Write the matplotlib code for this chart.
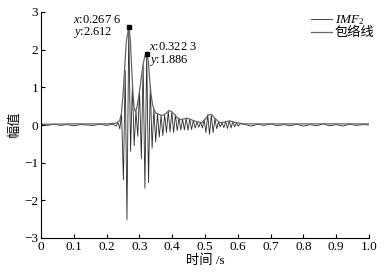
import numpy as np
import matplotlib
matplotlib.use("Agg")
import matplotlib.pyplot as plt

plt.rcParams['font.family'] = ['Liberation Serif', 'Noto Sans CJK SC']
plt.rcParams['mathtext.fontset'] = 'custom'
plt.rcParams['mathtext.rm'] = 'Liberation Serif'
plt.rcParams['mathtext.it'] = 'Liberation Serif:italic'

# baseline wiggle before / after the burst
t_quiet = [0.0, 0.02, 0.04, 0.06, 0.08, 0.10, 0.12, 0.14, 0.16, 0.18, 0.20, 0.22, 0.229,
           0.62, 0.64, 0.66, 0.68, 0.70, 0.72, 0.74, 0.76, 0.78, 0.80, 0.82, 0.84,
           0.86, 0.88, 0.90, 0.92, 0.94, 0.96, 0.98, 1.0]
v_quiet = [0.01, -0.01, 0.02, -0.01, 0.01, -0.02, 0.01, 0.00, -0.01, 0.02, -0.01, 0.02, -0.03,
           0.02, -0.03, 0.02, -0.01, 0.03, -0.02, 0.01, -0.02, 0.02, -0.03, 0.01, -0.02,
           0.03, -0.02, 0.01, -0.03, 0.02, -0.01, 0.01, 0.00]

# IMF2 extrema
t_pk = [0.2347, 0.2457, 0.2567, 0.2676, 0.2786, 0.2895, 0.3004, 0.3114, 0.3223, 0.3332,
        0.3442, 0.3551, 0.3661, 0.3770, 0.3880, 0.3989, 0.4098, 0.4208, 0.4317, 0.4427,
        0.4536, 0.4645, 0.4755, 0.4864, 0.4974, 0.5083, 0.5192, 0.5302, 0.5411, 0.5521,
        0.5630, 0.5739, 0.5849, 0.5958, 0.6068]
v_pk = [0.06, 0.30, 1.45, 2.612, 1.05, 0.38, 0.95, 1.60, 1.886, 1.05,
        0.42, 0.30, 0.26, 0.27, 0.37, 0.35, 0.27, 0.18, 0.15, 0.18,
        0.16, 0.12, 0.08, 0.07, 0.14, 0.27, 0.26, 0.17, 0.07, 0.06,
        0.09, 0.11, 0.09, 0.05, 0.03]
t_tr = [0.2402, 0.2512, 0.2621, 0.2731, 0.2840, 0.2950, 0.3059, 0.3168, 0.3278, 0.3387,
        0.3497, 0.3606, 0.3715, 0.3825, 0.3934, 0.4043, 0.4153, 0.4262, 0.4372, 0.4481,
        0.4591, 0.4700, 0.4809, 0.4919, 0.5028, 0.5138, 0.5247, 0.5356, 0.5466, 0.5575,
        0.5685, 0.5794, 0.5903, 0.6013]
v_tr = [-0.10, -1.46, -2.52, -0.70, -0.55, -0.30, -0.90, -1.68, -1.53, -0.62,
        -0.45, -0.32, -0.28, -0.20, -0.18, -0.20, -0.15, -0.13, -0.13, -0.14,
        -0.12, -0.08, -0.06, -0.08, -0.20, -0.25, -0.20, -0.10, -0.05, -0.07,
        -0.09, -0.08, -0.05, -0.03]

# envelope
t_env = [0.0, 0.1, 0.2, 0.23, 0.24, 0.245, 0.25, 0.255, 0.26, 0.2676, 0.272, 0.276, 0.28,
         0.284, 0.288, 0.292, 0.297, 0.302, 0.307, 0.312, 0.317, 0.3223, 0.327, 0.331,
         0.335, 0.34, 0.345, 0.35, 0.355, 0.36, 0.37, 0.38, 0.39, 0.395, 0.405, 0.415,
         0.425, 0.435, 0.445, 0.455, 0.47, 0.49, 0.50, 0.51, 0.52, 0.53, 0.545, 0.56,
         0.575, 0.59, 0.62, 0.7, 0.8, 0.9, 1.0]
v_env = [0.02, 0.03, 0.03, 0.05, 0.12, 0.30, 0.80, 1.50, 2.20, 2.612, 2.30, 1.60, 0.90,
         0.45, 0.35, 0.45, 0.70, 1.00, 1.35, 1.65, 1.83, 1.886, 1.70, 1.25,
         0.85, 0.55, 0.40, 0.32, 0.30, 0.28, 0.25, 0.30, 0.38, 0.37, 0.30, 0.20,
         0.14, 0.16, 0.18, 0.15, 0.10, 0.06, 0.15, 0.27, 0.28, 0.18, 0.06, 0.08,
         0.11, 0.07, 0.03, 0.03, 0.03, 0.03, 0.03]

mark_t = [0.2676, 0.3223]
mark_v = [2.612, 1.886]
mark_lab = ['$x$:0.267 6\n$y$:2.612', '$x$:0.322 3\n$y$:1.886']

t_sig = np.array(t_quiet + t_pk + t_tr)
v_sig = np.array(v_quiet + v_pk + v_tr)
order = np.argsort(t_sig)
t_sig = t_sig[order]
v_sig = v_sig[order]

fig = plt.figure(figsize=(3.87, 2.75), dpi=100)
ax = fig.add_axes([41/387, 1-238/275, 328/387, 226/275])

ax.plot(t_sig, v_sig, color='#2a2a2a', lw=0.6, label=r'$\mathit{IMF}_2$')
ax.plot(t_env, v_env, color='#666666', lw=0.9, label='包络线')
ax.plot(mark_t, mark_v, 's', color='black', ms=3.5, ls='none')

ax.text(0.0976, 2.60, mark_lab[0], fontsize=9, va='center', ha='left', linespacing=0.95)
ax.text(0.329, 1.87, mark_lab[1], fontsize=9, va='center', ha='left', linespacing=0.95)

ax.set_xlim(0, 1.0)
ax.set_ylim(-3, 3)
ax.set_xticks([0, 0.1, 0.2, 0.3, 0.4, 0.5, 0.6, 0.7, 0.8, 0.9, 1.0])
ax.set_xticklabels(['0', '0.1', '0.2', '0.3', '0.4', '0.5', '0.6', '0.7', '0.8', '0.9', '1.0'])
ax.set_yticks([-3, -2, -1, 0, 1, 2, 3])
ax.set_yticklabels(['\u22123', '\u22122', '\u22121', '0', '1', '2', '3'])
ax.tick_params(direction='in', length=3, width=0.8, labelsize=9.5, pad=2)
ax.spines['top'].set_visible(False)
ax.spines['right'].set_visible(False)

ax.set_xlabel('时间 /s', fontsize=9.5, labelpad=1)
ax.set_ylabel('幅值', fontsize=9.5, labelpad=2)

ax.legend(loc='upper left', bbox_to_anchor=(0.823, 0.995), frameon=False,
          fontsize=9.5, handlelength=1.6, handletextpad=0.2, labelspacing=0.0,
          borderpad=0, borderaxespad=0)

fig.savefig('out.png', dpi=100)
